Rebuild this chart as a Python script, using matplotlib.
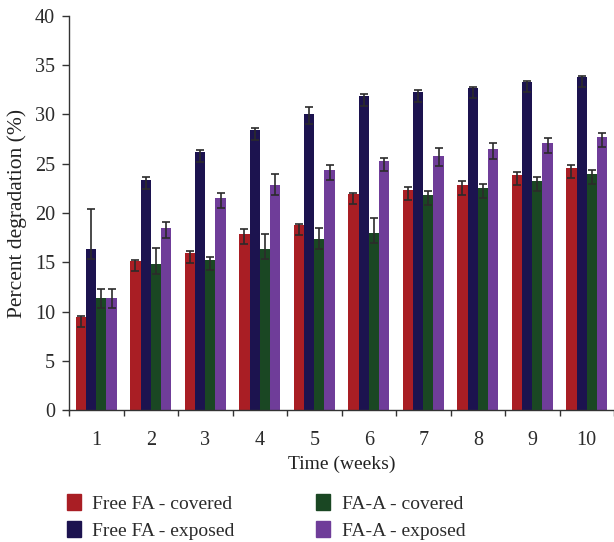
import numpy as np
from matplotlib import pyplot as plt
from matplotlib.patches import Patch

plt.rcParams['font.family'] = ['Liberation Serif', 'DejaVu Serif']

#%% data
weeks = [1, 2, 3, 4, 5, 6, 7, 8, 9, 10]
labels = ['Free FA - covered', 'Free FA - exposed', 'FA-A - covered', 'FA-A - exposed']

free_cov = [9.45, 15.1, 15.97, 17.9, 18.8, 21.96, 22.36, 22.87, 23.88, 24.6]
free_exp = [16.3, 23.4, 26.2, 28.45, 30.07, 31.9, 32.3, 32.7, 33.3, 33.8]
faa_cov = [11.4, 14.8, 15.26, 16.38, 17.39, 17.97, 21.8, 22.56, 23.27, 23.98]
faa_exp = [11.4, 18.5, 21.55, 22.87, 24.39, 25.3, 25.8, 26.5, 27.1, 27.7]

# upper / lower error bar lengths
free_cov_hi = [0.07, 0.1, 0.17, 0.47, 0.1, 0.07, 0.27, 0.37, 0.24, 0.27]
free_exp_hi = [4.1, 0.26, 0.17, 0.17, 0.68, 0.14, 0.14, 0.14, 0.14, 0.14]
faa_cov_hi = [0.88, 1.66, 0.27, 1.45, 1.08, 1.49, 0.4, 0.34, 0.34, 0.34]
faa_exp_hi = [0.88, 0.54, 0.44, 1.05, 0.47, 0.24, 0.81, 0.64, 0.54, 0.47]
err_lo = [1.0, 1.0, 1.0, 1.0, 1.0, 1.0, 1.0, 1.0, 1.0, 1.0]

colors = ['#a91e24', '#1c134f', '#1a4723', '#6f3d99']

#%% plot
fig = plt.figure(figsize=(6.14, 5.42), dpi=100)
ax = fig.add_axes([0.1124, 0.2435, 0.8876, 0.727])

x = np.array(weeks)
w = 0.1875
series = [free_cov, free_exp, faa_cov, faa_exp]
highs = [free_cov_hi, free_exp_hi, faa_cov_hi, faa_exp_hi]
for i, (vals, hi) in enumerate(zip(series, highs)):
    pos = x + (i - 1.5) * w
    ax.bar(pos, vals, width=w, color=colors[i], zorder=2)
    ax.errorbar(pos, vals, yerr=[err_lo, hi], fmt='none',
                ecolor='#2b2b2b', elinewidth=1.2, capsize=3.2,
                capthick=1.2, zorder=3)

ax.set_xlim(0.5, 10.5)
ax.set_ylim(0, 40)
ax.set_yticks(range(0, 41, 5))
ax.set_xticks(np.arange(0.5, 11, 1))
ax.set_xticklabels([])
ax.set_xticks(x, minor=True)
ax.set_xticklabels([str(v) for v in weeks], minor=True)
ax.tick_params(axis='x', which='minor', length=0, pad=15, labelsize=14.5,
               labelcolor='#2b2b2b')
ax.tick_params(axis='x', which='major', length=4, width=1, color='#333333')
ax.tick_params(axis='y', length=5, width=1, color='#333333', pad=5,
               labelsize=14.5, labelcolor='#2b2b2b')

for s in ['top', 'right']:
    ax.spines[s].set_visible(False)
for s in ['left', 'bottom']:
    ax.spines[s].set_color('#333333')
    ax.spines[s].set_linewidth(1.0)

ax.set_xlabel('Time (weeks)', fontsize=14, labelpad=4, color='#222222')
ax.set_ylabel('Percent degradation (%)', fontsize=15.5, labelpad=6, color='#222222')

handles = [Patch(color=c) for c in colors]
fig.legend(handles, labels,
           ncol=2, loc='upper left', bbox_to_anchor=(0.097, 0.103),
           frameon=False, fontsize=14, handlelength=0.72, handleheight=0.9,
           handletextpad=0.57, columnspacing=4.2, labelspacing=0.42,
           borderaxespad=0, labelcolor='#2b2b2b')

plt.savefig('out.png', dpi=100)
